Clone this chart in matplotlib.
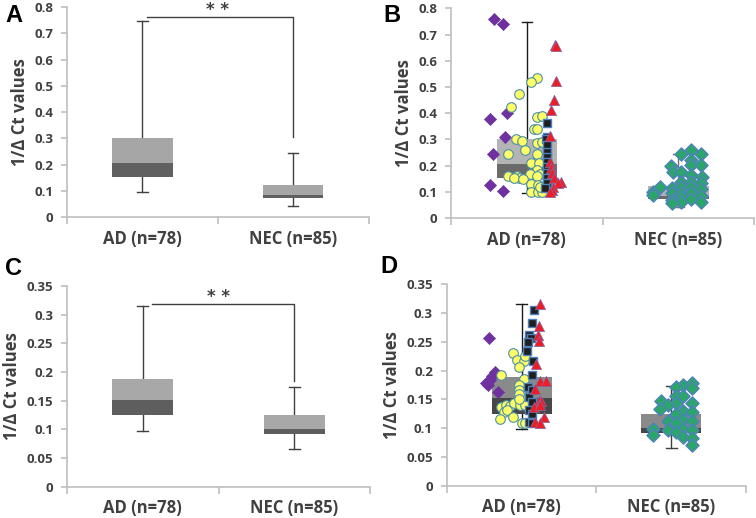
import matplotlib.pyplot as plt
import numpy as np

plt.rcParams['font.family'] = ['Open Sans', 'DejaVu Sans']

GROUPS = ["AD (n=78)", "NEC (n=85)"]

# box stats per panel row: [whisker_low, q1, median, q3, whisker_high]
TOP_AD = [0.094, 0.154, 0.207, 0.303, 0.749]
TOP_NEC = [0.043, 0.071, 0.084, 0.122, 0.243]
BOT_AD = [0.098, 0.125, 0.152, 0.188, 0.316]
BOT_NEC = [0.066, 0.092, 0.101, 0.125, 0.174]

TOP_TICKS = [0, 0.1, 0.2, 0.3, 0.4, 0.5, 0.6, 0.7, 0.8]
TOP_TICKLABELS = ["0", "0.1", "0.2", "0.3", "0.4", "0.5", "0.6", "0.7", "0.8"]
BOT_TICKS = [0, 0.05, 0.1, 0.15, 0.2, 0.25, 0.3, 0.35]
BOT_TICKLABELS = ["0", "0.05", "0.1", "0.15", "0.2", "0.25", "0.3", "0.35"]

# panel B points (offset from group centre, value)
b_purple_dx = [-0.217, -0.16, -0.24, -0.13, -0.143, -0.22, -0.243, -0.16]
b_purple_y = [0.761, 0.739, 0.378, 0.399, 0.309, 0.243, 0.128, 0.104]
b_yellow_dx = [0.064, 0.026, -0.053, -0.107, 0.064, 0.103, 0.046, 0.068, -0.072, -0.031,
               0.064, 0.097, -0.011, -0.127, 0.064, 0.026, 0.079, 0.064, 0.024, 0.09,
               -0.127, -0.068, -0.051, -0.086, -0.028, 0.068, 0.026, 0.075, 0.026, 0.075,
               0.103, 0.09]
b_yellow_y = [0.535, 0.52, 0.472, 0.422, 0.386, 0.389, 0.338, 0.338, 0.30, 0.295,
              0.288, 0.292, 0.26, 0.244, 0.243, 0.211, 0.209, 0.183, 0.168, 0.168,
              0.161, 0.159, 0.152, 0.152, 0.148, 0.159, 0.131, 0.127, 0.10, 0.10,
              0.098, 0.12]
b_square_dx = [0.135, 0.13, 0.125, 0.13, 0.13, 0.13, 0.13, 0.13, 0.13, 0.13, 0.13, 0.12]
b_square_y = [0.361, 0.31, 0.30, 0.278, 0.253, 0.234, 0.215, 0.196, 0.17, 0.151, 0.132, 0.114]
b_red_dx = [0.184, 0.195, 0.195, 0.18, 0.162, 0.156, 0.151, 0.158, 0.169, 0.18,
            0.228, 0.206, 0.17, 0.169, 0.15]
b_red_y = [0.659, 0.655, 0.522, 0.452, 0.414, 0.312, 0.215, 0.19, 0.171, 0.152,
           0.139, 0.132, 0.12, 0.107, 0.1]
b_green_dx = [0.08, 0.02, 0.15, 0.085, -0.05, 0.08, 0.15, -0.035, 0.02, 0.085,
              0.157, 0.02, 0.085, 0.152, -0.12, -0.04, 0.02, 0.085, 0.152, -0.167,
              -0.04, 0.02, 0.085, -0.167, 0.02, 0.152, -0.04, 0.085, 0.02, 0.152,
              -0.04]
b_green_y = [0.259, 0.243, 0.246, 0.221, 0.2, 0.204, 0.204, 0.174, 0.176, 0.164,
             0.157, 0.138, 0.138, 0.135, 0.119, 0.113, 0.118, 0.118, 0.109, 0.1,
             0.096, 0.096, 0.096, 0.088, 0.081, 0.083, 0.069, 0.071, 0.063, 0.062,
             0.057]

# panel D points
d_purple_dx = [-0.219, -0.179, -0.2, -0.24, -0.21, -0.16, -0.225]
d_purple_y = [0.256, 0.198, 0.19, 0.178, 0.184, 0.163, 0.175]
d_yellow_dx = [-0.06, -0.034, 0.018, -0.016, 0.02, -0.138, 0.018, -0.016, -0.016, 0.01,
               -0.02, -0.138, -0.105, -0.078, -0.05, -0.011, 0.02, -0.12, -0.1, -0.145,
               -0.06, 0.0, 0.02, -0.02]
d_yellow_y = [0.231, 0.218, 0.217, 0.206, 0.225, 0.192, 0.185, 0.175, 0.166, 0.155,
              0.16, 0.137, 0.141, 0.138, 0.143, 0.141, 0.14, 0.128, 0.131, 0.115,
              0.12, 0.109, 0.108, 0.15]
d_square_dx = [0.082, 0.067, 0.049, 0.06, 0.045, 0.038, 0.078, 0.067, 0.045, 0.07,
               0.05, 0.07, 0.047, 0.07, 0.049, 0.07]
d_square_y = [0.306, 0.283, 0.261, 0.256, 0.25, 0.234, 0.217, 0.192, 0.171, 0.166,
              0.154, 0.145, 0.131, 0.125, 0.111, 0.108]
d_red_dx = [0.125, 0.116, 0.109, 0.116, 0.098, 0.125, 0.16, 0.087, 0.116, 0.131,
            0.082, 0.12, 0.149, 0.087, 0.12]
d_red_y = [0.316, 0.277, 0.262, 0.252, 0.211, 0.181, 0.181, 0.168, 0.147, 0.147,
           0.136, 0.14, 0.12, 0.11, 0.108]
d_green_dx = [0.08, 0.137, 0.032, 0.137, 0.032, 0.08, -0.07, 0.032, 0.137, -0.02,
              -0.075, 0.08, 0.137, 0.032, -0.02, 0.08, 0.137, 0.032, -0.12, -0.02,
              0.08, 0.137, 0.032, -0.124, 0.08, 0.137, 0.137]
d_green_y = [0.175, 0.178, 0.171, 0.17, 0.156, 0.156, 0.147, 0.143, 0.143, 0.14,
             0.134, 0.13, 0.128, 0.125, 0.112, 0.114, 0.112, 0.108, 0.098, 0.097,
             0.099, 0.097, 0.093, 0.088, 0.084, 0.082, 0.071]

AXIS_GREY = '#bfbfbf'
TEXT_GREY = '#404040'
EDGE_BLUE = '#4f81bd'


def draw_box(ax, x, stats, light, dark, wcolor, width=0.4):
    lo, q1, med, q3, hi = stats
    ax.plot([x, x], [lo, hi], color=wcolor, lw=1, zorder=1)
    ax.plot([x - 0.035, x + 0.035], [hi, hi], color=wcolor, lw=1, zorder=1)
    ax.plot([x - 0.035, x + 0.035], [lo, lo], color=wcolor, lw=1, zorder=1)
    ax.bar(x, med - q1, bottom=q1, width=width, color=dark, zorder=2)
    ax.bar(x, q3 - med, bottom=med, width=width, color=light, zorder=2)


def style_axes(ax, ticks, ticklabels):
    ax.set_xlim(0, 2)
    ax.set_ylim(ticks[0], ticks[-1])
    ax.set_yticks(ticks)
    ax.set_yticklabels(ticklabels)
    ax.set_xticks([0, 1, 2])
    ax.set_xticklabels([])
    ax.set_xticks([0.5, 1.5], minor=True)
    ax.set_xticklabels(GROUPS, minor=True)
    ax.tick_params(axis='x', which='minor', length=0, pad=9,
                   labelsize=12, labelcolor=TEXT_GREY)
    ax.tick_params(axis='x', which='major', length=5, color=AXIS_GREY, width=1.2)
    ax.tick_params(axis='y', length=4, color=AXIS_GREY, width=1.2,
                   labelsize=9.5, labelcolor=TEXT_GREY, pad=6)
    for lab in ax.get_xticklabels(minor=True) + ax.get_yticklabels():
        lab.set_fontweight('bold')
    for side in ['top', 'right']:
        ax.spines[side].set_visible(False)
    for side in ['left', 'bottom']:
        ax.spines[side].set_color(AXIS_GREY)
        ax.spines[side].set_linewidth(1.2)
    ax.set_ylabel("1/Δ Ct values", fontsize=12, fontweight='bold', color=TEXT_GREY,
                  labelpad=4)


def scatter_group(ax, x0, dx, y, marker, face, edge, size, lw=0.8):
    ax.scatter(x0 + np.array(dx), y, marker=marker, s=size, c=face,
               edgecolors=edge, linewidths=lw, zorder=3)


fig = plt.figure(figsize=(7.56, 5.18), dpi=100)
ax_a = fig.add_axes([0.0886, 0.581, 0.399, 0.405])
ax_b = fig.add_axes([0.5966, 0.579, 0.401, 0.405])
ax_c = fig.add_axes([0.0886, 0.0605, 0.401, 0.387])
ax_d = fig.add_axes([0.591, 0.0624, 0.396, 0.389])

# A
draw_box(ax_a, 0.5, TOP_AD, '#a6a6a6', '#606060', '#404040')
draw_box(ax_a, 1.5, TOP_NEC, '#a6a6a6', '#606060', '#404040')
ax_a.plot([0.53, 1.5, 1.5], [0.764, 0.764, 0.307], color='#404040', lw=1,
          clip_on=False)
ax_a.text(1.0, 0.79, "* *", ha='center', va='center', fontsize=12,
          fontweight='bold', color=TEXT_GREY, family='DejaVu Sans')
style_axes(ax_a, TOP_TICKS, TOP_TICKLABELS)

# B
draw_box(ax_b, 0.5, TOP_AD, '#b4b4b4', '#6a6a6a', '#1a1a1a')
draw_box(ax_b, 1.5, TOP_NEC, '#b4b4b4', '#6a6a6a', '#707070')
scatter_group(ax_b, 0.5, b_purple_dx, b_purple_y, 'D', '#7030a0', '#6a3d9a', 38, 0.5)
scatter_group(ax_b, 0.5, b_yellow_dx, b_yellow_y, 'o', '#ffff66', '#4a8fa8', 48)
scatter_group(ax_b, 0.5, b_square_dx, b_square_y, 's', '#1f1f1f', EDGE_BLUE, 36, 1.0)
scatter_group(ax_b, 0.5, b_red_dx, b_red_y, '^', '#ee1c25', '#7a6fb0', 55, 0.5)
scatter_group(ax_b, 1.5, b_green_dx, b_green_y, 'D', '#2ca56b', EDGE_BLUE, 45, 1.0)
style_axes(ax_b, TOP_TICKS, TOP_TICKLABELS)

# C
draw_box(ax_c, 0.5, BOT_AD, '#a8a8a8', '#5e5e5e', '#404040')
draw_box(ax_c, 1.5, BOT_NEC, '#a8a8a8', '#5e5e5e', '#404040')
ax_c.plot([0.56, 1.5, 1.5], [0.319, 0.319, 0.185], color='#404040', lw=1)
ax_c.text(1.0, 0.332, "* *", ha='center', va='center', fontsize=12,
          fontweight='bold', color=TEXT_GREY, family='DejaVu Sans')
style_axes(ax_c, BOT_TICKS, BOT_TICKLABELS)

# D
draw_box(ax_d, 0.5, BOT_AD, '#8a8a8a', '#474747', '#1a1a1a')
draw_box(ax_d, 1.5, BOT_NEC, '#8a8a8a', '#474747', '#404040')
scatter_group(ax_d, 0.5, d_purple_dx, d_purple_y, 'D', '#7030a0', '#6a3d9a', 38, 0.5)
scatter_group(ax_d, 0.5, d_yellow_dx, d_yellow_y, 'o', '#ffff66', '#4a8fa8', 48)
scatter_group(ax_d, 0.5, d_square_dx, d_square_y, 's', '#1f1f1f', EDGE_BLUE, 36, 1.0)
scatter_group(ax_d, 0.5, d_red_dx, d_red_y, '^', '#ee1c25', '#7a6fb0', 55, 0.5)
scatter_group(ax_d, 1.5, d_green_dx, d_green_y, 'D', '#2ca56b', EDGE_BLUE, 45, 1.0)
style_axes(ax_d, BOT_TICKS, BOT_TICKLABELS)

# panel letters
for letter, x, y in [("A", 0.0066, 0.9575), ("B", 0.5066, 0.9575),
                     ("C", 0.0066, 0.469), ("D", 0.5026, 0.473)]:
    fig.text(x, y, letter, fontsize=17, fontweight='bold', color='black',
             family=['Liberation Sans', 'DejaVu Sans'], va='baseline')

fig.savefig('out.png', dpi=100)
